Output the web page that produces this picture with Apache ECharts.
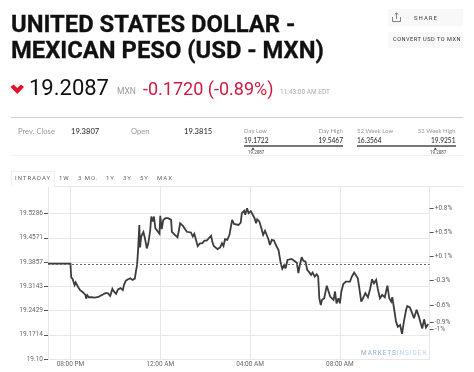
<!DOCTYPE html>
<html><head><meta charset="utf-8">
<script src="https://cdn.jsdelivr.net/npm/echarts@6/dist/echarts.min.js"></script>
<style>
html,body{margin:0;padding:0;background:#fff;width:474px;height:372px;overflow:hidden;font-family:Roboto,"Liberation Sans",sans-serif}
#chart{position:absolute;left:0;top:0;width:474px;height:372px}
.t{position:absolute;white-space:nowrap;line-height:1}
.r{position:absolute}
</style></head><body>
<div id="chart"></div>
<div id="page"></div>
<script>
const minutes=[0,60,62,64,66,69,71,74,77,80,84,86,89,93,96,100,102,105,109,112,116,120,125,130,135,141,147,153,160,166,168,172,176,182,187,194,200,203,208,214,220,226,232,235,238,241,242,244,246,249,255,259,264,268,273,276,280,283,287,292,298,300,304,308,314,321,
326,329,331,335,339,346,350,353,356,360,365,371,376,382,387,391,396,400,406,412,418,424,430,436,439,443,448,453,460,465,469,473,479,485,488,492,497,502,509,515,518,524,527,532,536,542,547,552,556,559,565,569,575,580,584,589,593,598,604,609,616,622,626,631,635,640,645,651,657,665,669,673,
678,682,688,693,698,703,707,713,718,722,725,729,732,738,741,745,749,754,759,763,767,771,776,780,784,789,796,801,807,812,818,823,828,832,837,843,848,855,861,866,871,877,881,887,893,900,907,912,917,920,926,930,935,941,946,951,957,960,967,973,978,985,991,996,1000,1005,1010,1016];
const prices=[19.381,19.381,19.341,19.345,19.335,19.331,19.318,19.326,19.321,19.313,19.313,19.303,19.301,19.297,19.296,19.289,19.278,19.288,19.282,19.287,19.282,19.285,19.281,19.279,19.283,19.287,19.290,19.294,19.294,19.286,19.292,19.307,19.299,19.292,19.305,19.309,19.303,19.318,19.331,19.335,19.338,19.333,19.337,19.358,19.377,19.426,19.451,19.495,19.429,19.461,19.474,19.456,19.426,19.441,19.478,19.520,19.505,19.520,19.485,19.480,19.469,19.522,19.483,19.510,19.515,19.515,
19.515,19.510,19.475,19.471,19.466,19.459,19.480,19.500,19.503,19.493,19.488,19.475,19.477,19.473,19.461,19.469,19.466,19.433,19.441,19.441,19.449,19.449,19.456,19.463,19.446,19.433,19.431,19.424,19.429,19.441,19.433,19.453,19.451,19.466,19.485,19.510,19.498,19.498,19.495,19.502,19.530,19.537,19.525,19.544,19.530,19.536,19.534,19.515,19.500,19.512,19.505,19.490,19.466,19.478,19.473,19.453,19.436,19.451,19.449,19.436,19.421,19.382,19.366,19.377,19.367,19.392,19.396,19.395,19.390,19.384,19.353,19.377,
19.400,19.390,19.387,19.362,19.356,19.348,19.355,19.343,19.350,19.343,19.279,19.259,19.274,19.279,19.282,19.316,19.313,19.284,19.279,19.274,19.299,19.264,19.279,19.264,19.299,19.321,19.328,19.323,19.328,19.343,19.355,19.356,19.338,19.308,19.269,19.282,19.294,19.282,19.308,19.335,19.323,19.333,19.308,19.279,19.289,19.282,19.316,19.279,19.269,19.282,19.240,19.210,19.195,19.200,19.174,19.210,19.245,19.256,19.252,19.235,19.220,19.245,19.225,19.205,19.190,19.217,19.193,19.203];
const prevClose=19.3807;
const priceTicks=[19.10,19.1714,19.2429,19.3143,19.3857,19.4571,19.5286];
const priceLabels=['19.10','19.1714','19.2429','19.3143','19.3857','19.4571','19.5286'];
const pctTicks=[19.544,19.4726,19.4018,19.331,19.259,19.208,19.1875];
const pctLabels=['+0.8%','+0.5%','+0.1%','-0.3%','-0.6%','-0.9%','-1%'];
const timeTicks=[60,300,540,780];
const timeLabels=['08:00 PM','12:00 AM','04:00 AM','08:00 AM'];
const lineData=minutes.map((m,i)=>[m,prices[i]]);
const font='Roboto';
const gridC='#e8e8e8';
const chart=echarts.init(document.getElementById('chart'),null,{renderer:'canvas'});
chart.setOption({
 animation:false,
 grid:{left:48,right:44.3,top:187,bottom:13,containLabel:false},
 xAxis:{type:'value',min:0,max:1020,
  axisLine:{show:true,lineStyle:{color:gridC,width:1}},
  axisTick:{show:false,customValues:timeTicks},
  axisLabel:{customValues:timeTicks,formatter:v=>timeLabels[timeTicks.indexOf(v)]||'',color:'#666',fontFamily:font,fontSize:6.5,margin:2},
  splitLine:{show:true,lineStyle:{color:gridC,width:1}}},
 yAxis:[{type:'value',min:19.10,max:19.607,
  axisLine:{show:true,lineStyle:{color:gridC,width:1}},
  axisTick:{show:true,customValues:priceTicks,length:4,lineStyle:{color:'#555',width:1}},
  axisLabel:{customValues:priceTicks,formatter:v=>priceLabels[priceTicks.indexOf(v)]||'',color:'#666',fontFamily:font,fontSize:6.5,margin:5},
  splitLine:{show:true,lineStyle:{color:gridC,width:1}}},
  {type:'value',min:19.10,max:19.607,position:'right',
  axisLine:{show:true,lineStyle:{color:gridC,width:1}},
  axisTick:{show:true,customValues:pctTicks,length:4,lineStyle:{color:'#555',width:1}},
  axisLabel:{customValues:pctTicks,formatter:v=>pctLabels[pctTicks.indexOf(v)]||'',
    color:v=>v===19.208?'#e8657a':'#666',fontFamily:font,fontSize:6.5,margin:5},
  splitLine:{show:false}}],
 series:[{type:'line',data:lineData,showSymbol:false,silent:true,
  lineStyle:{color:'#3d3d3d',width:1.8,join:'miter',miterLimit:3},
  markLine:{silent:true,symbol:'none',label:{show:false},
   lineStyle:{color:'#6a6a6a',type:[2,2],width:1},data:[{yAxis:prevClose}]}}]
});
const tab={fontSize:'6px',letterSpacing:'1px',color:'#666'};
const lab={fontFamily:'Lato',fontSize:'7.6px',color:'#999'};
const val={fontFamily:'Lato',fontSize:'7.6px',color:'#222'};
const small={fontFamily:'Lato',fontSize:'6px',color:'#999'};
const nums={fontFamily:'Lato',fontSize:'6.6px',color:'#222'};
const head={fontSize:'23.8px',fontWeight:700,color:'#111',webkitTextStroke:'.3px #111'};
const texts=[
 ['UNITED STATES DOLLAR -',11,12.5,head],
 ['MEXICAN PESO (USD - MXN)',11,39,head],
 ['19.2087',29,77,{fontSize:'22px',fontWeight:400,color:'#111'}],
 ['MXN',117,87,{fontSize:'8.5px',color:'#999'}],
 ['-0.1720 (-0.89%)',143,80,{fontSize:'18px',color:'#cf1b3f'}],
 ['11:43:00 AM EDT',280,89,{fontSize:'6.5px',color:'#aaa'}],
 ['SHARE',414,14.5,{fontSize:'6px',letterSpacing:'1px',color:'#444'}],
 ['CONVERT USD TO MXN',393,37,{fontSize:'5.6px',letterSpacing:'.5px',color:'#333'}],
 ['Prev. Close',18,128,lab],
 ['19.3807',71,128,val],
 ['Open',131,128,lab],
 ['19.3815',184,128,val],
 ['Day Low',244,128,small],
 ['19.1722',244,137,nums],
 ['Day High',-343,128,small],
 ['19.5467',-343,137,nums],
 ['52 Week Low',357,128,small],
 ['16.3564',357,137,nums],
 ['52 Week High',-455.5,128,small],
 ['19.9251',-455.5,137,nums],
 ['19.2087',248,151,{fontSize:'4.5px',color:'#444'}],
 ['19.2087',430,151,{fontSize:'4.5px',color:'#444'}],
 ['INTRADAY',15,175,tab],
 ['1W',59,175,tab],
 ['3 MO.',78,175,tab],
 ['1Y',106,175,tab],
 ['3Y',123,175,tab],
 ['5Y',140,175,tab],
 ['MAX',157,175,tab]
];
const rects=[
 [388,9,75,17,'#f8f8f8'],[388,32,75,16,'#f8f8f8'],
 [11,117,452,1,'#cfcfcf'],[11,155,452,1,'#f0f0f0'],
 [244,145,99,1.5,'#777'],[357,145,98.5,1.5,'#777'],
 [55,186,408,1,'#e8e8e8'],[11,171,1,15,'#eee'],[54,171,1,16,'#eee'],[11,171,44,1,'#eee']
];
const page=document.getElementById('page');
rects.forEach(([x,y,w,h,c])=>{const d=document.createElement('div');d.className='r';
 Object.assign(d.style,{left:x+'px',top:y+'px',width:w+'px',height:h+'px',background:c});page.appendChild(d);});
texts.forEach(([s,x,y,st])=>{const d=document.createElement('div');d.className='t';d.textContent=s;
 Object.assign(d.style,st);d.style.top=y+'px';
 if(x<0){d.style.right=(474+x)+'px';}else d.style.left=x+'px';page.appendChild(d);});
const wm=document.createElement('div');wm.className='t';
wm.style.cssText='left:361px;top:350px;font-size:6.5px;letter-spacing:.9px;color:#8fb0cf;';
wm.innerHTML='MARKETS<span style="color:#bcd3e6">INSIDER</span>';page.appendChild(wm);
const svg=document.createElement('div');
svg.innerHTML='<svg style="position:absolute;left:0;top:0" width="474" height="372" xmlns="http://www.w3.org/2000/svg">'
+'<path d="M10.5 87 L13.5 84.5 L17.3 88 L21 84.5 L24 87 L17.3 94 Z" fill="#e3122d"/>'
+'<path d="M253 147.5 l1.6 2.2 h-3.2 Z M435.3 147.5 l1.6 2.2 h-3.2 Z" fill="#333"/>'
+'<path d="M392.5 17v4.5h8V17 M396.5 19V13 M394.7 14.6L396.5 12.8L398.3 14.6" fill="none" stroke="#666" stroke-width=".8"/>'
+'</svg>';
page.appendChild(svg);
</script>
</body></html>
